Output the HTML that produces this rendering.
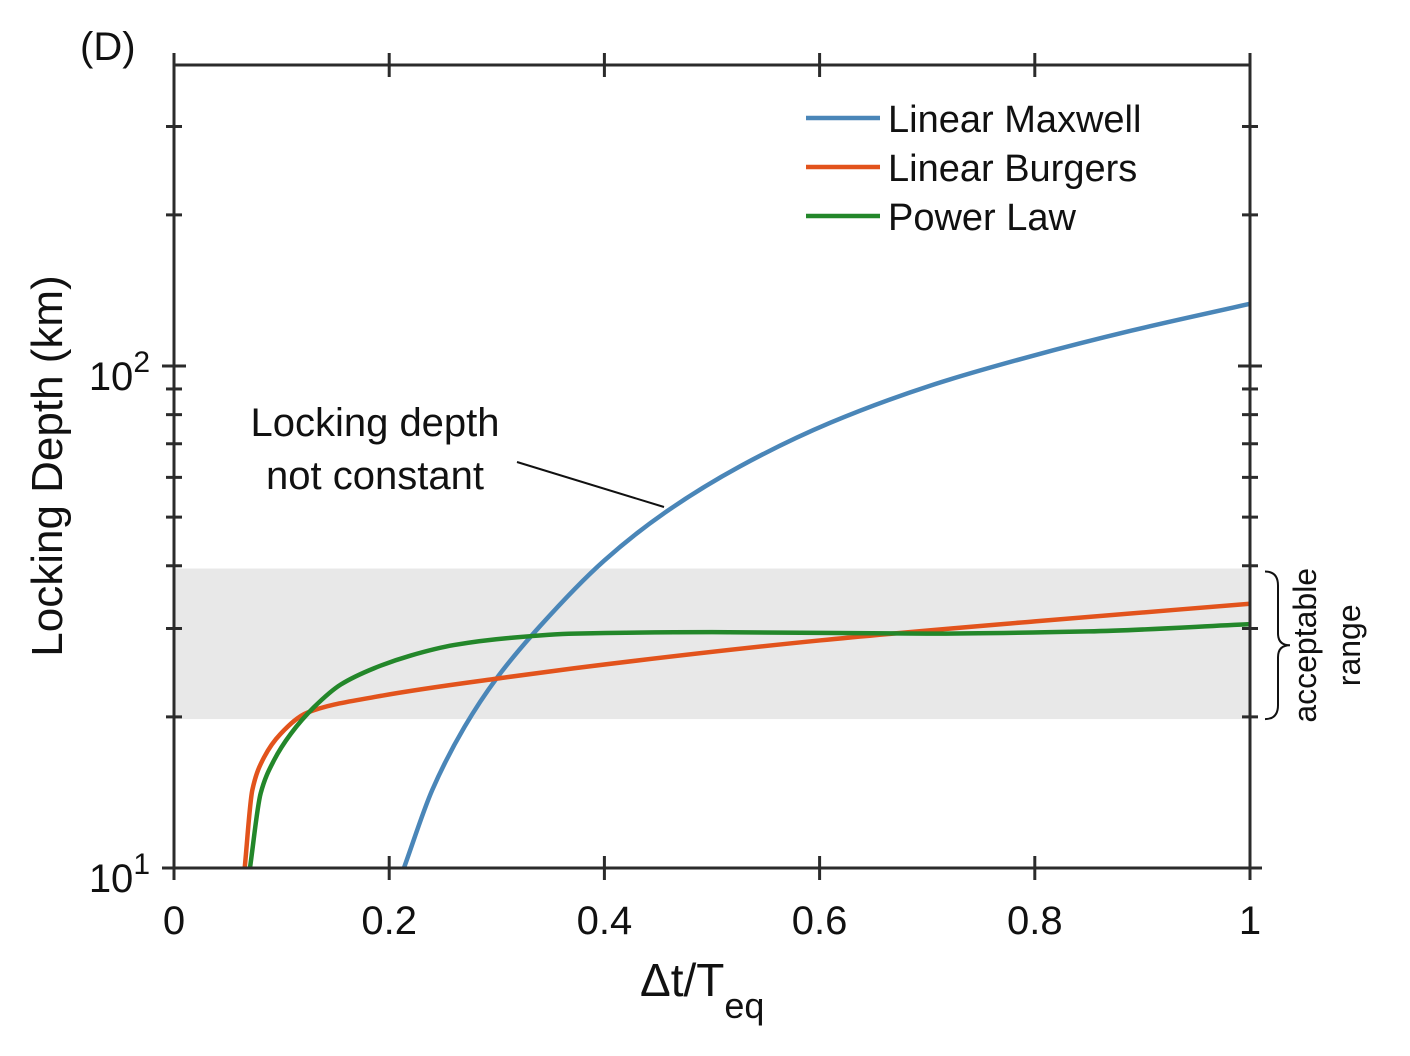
<!DOCTYPE html>
<html><head><meta charset="utf-8"><style>
html,body{margin:0;padding:0;background:#fff;}
svg{display:block;font-family:"Liberation Sans",sans-serif;}
</style></head><body>
<svg id="chart" width="1410" height="1056" viewBox="0 0 1410 1056">
<text x="80" y="60" font-size="40" fill="#111">(D)</text>
<g id="plot"></g>
</svg>
<script>
const xTicks=[0,0.2,0.4,0.6,0.8,1];
const xTickLabels=["0","0.2","0.4","0.6","0.8","1"];
const yMinor=[20,30,40,50,60,70,80,90,200,300];
const bandRange=[19.8,39.5];
const maxwellX=[0.2137,0.24,0.27,0.30,0.34,0.4,0.456,0.526,0.61,0.703,0.796,0.889,1.0];
const maxwellY=[10,14.3,19.1,23.9,30.3,41.0,51.0,63.1,77.1,91.4,104.5,117.5,133];
const burgersX=[0.0657,0.0728,0.0836,0.099,0.124,0.186,0.31,0.372,0.6,0.8,1.0];
const burgersY=[10,14.3,16.6,18.5,20.4,21.9,24.0,25.0,28.4,31,33.6];
const powerX=[0.0706,0.0806,0.093,0.1085,0.130,0.155,0.186,0.22,0.26,0.31,0.372,0.5,0.7,0.85,1.0];
const powerY=[10,14.1,16.4,18.5,20.9,23.2,25.0,26.5,27.8,28.7,29.3,29.5,29.3,29.6,30.6];

const X0=174,X1=1250,Y10=868,DEC=502,YT=65;
const sx=v=>X0+(X1-X0)*v;
const sy=v=>Y10-DEC*Math.log10(v/10);
const NS="http://www.w3.org/2000/svg";
const g=document.getElementById('plot');
function el(t,a){const e=document.createElementNS(NS,t);for(const k in a)e.setAttribute(k,a[k]);g.appendChild(e);return e;}

const band=el('rect',{x:X0,y:sy(bandRange[1]),width:X1-X0,height:sy(bandRange[0])-sy(bandRange[1]),fill:'#e8e8e8'});



function curve(xs,ys,color,name){
  const px=xs.map(sx), py=ys.map(sy), n=px.length;
  const d0=[];for(let i=0;i<n-1;i++)d0.push((py[i+1]-py[i])/(px[i+1]-px[i]));
  const m=new Array(n);
  m[0]=d0[0];m[n-1]=d0[n-2];
  for(let i=1;i<n-1;i++){
    if(d0[i-1]*d0[i]<=0)m[i]=0;
    else{const h0=px[i]-px[i-1],h1=px[i+1]-px[i];const w1=2*h1+h0,w2=h1+2*h0;m[i]=(w1+w2)/(w1/d0[i-1]+w2/d0[i]);}
  }
  let d=`M${px[0]},${py[0]}`;
  for(let i=0;i<n-1;i++){
    const h=(px[i+1]-px[i])/3;
    d+=` C${px[i]+h},${py[i]+m[i]*h} ${px[i+1]-h},${py[i+1]-m[i+1]*h} ${px[i+1]},${py[i+1]}`;
  }
  const e=el('path',{d,fill:'none',stroke:color,'stroke-width':4.5,'stroke-linejoin':'round'});
  
  
}
curve(maxwellX,maxwellY,'#4a86b8','linear-maxwell-line');
curve(burgersX,burgersY,'#e2531c','linear-burgers-line');
curve(powerX,powerY,'#23872a','power-law-line');

const frame=el('rect',{x:X0,y:YT,width:X1-X0,height:Y10-YT,fill:'none',stroke:'#2b2b2b','stroke-width':3});



xTicks.forEach((t,i)=>{
  const x=sx(t);
  const a=el('line',{x1:x,x2:x,y1:Y10-12,y2:Y10+12,stroke:'#2b2b2b','stroke-width':3});
  
  
  const b=el('line',{x1:x,x2:x,y1:YT-12,y2:YT+12,stroke:'#2b2b2b','stroke-width':3});
  
  
  const l=el('text',{x:x,y:934,'font-size':40,'text-anchor':'middle',fill:'#111'});
  l.textContent=xTickLabels[i];
  
  
});
[10,100].concat(yMinor).forEach(v=>{
  const y=sy(v), len=(v===10||v===100)?12:8;
  [X0,X1].forEach(x=>{
    const t=el('line',{x1:x-len,x2:x+len,y1:y,y2:y,stroke:'#2b2b2b','stroke-width':3});
    
    
  });
});
[[10,'1'],[100,'2']].forEach(([v,e])=>{
  const t=el('text',{x:150,y:sy(v)+24,'font-size':40,'text-anchor':'end',fill:'#111'});
  t.innerHTML=`10<tspan dy="-18" font-size="30">${e}</tspan>`;
  
  
});

const yt=el('text',{x:0,y:0,'font-size':44,'text-anchor':'middle',fill:'#111',transform:'translate(62,466) rotate(-90)'});
yt.textContent='Locking Depth (km)';


const xt=el('text',{x:640,y:996,'font-size':46,fill:'#111'});
xt.innerHTML='Δt/T<tspan dy="22" font-size="36">eq</tspan>';



[['Linear Maxwell','#4a86b8',118],['Linear Burgers','#e2531c',167],['Power Law','#23872a',216]].forEach(([n,c,y])=>{
  const l=el('line',{x1:806,x2:880,y1:y,y2:y,stroke:c,'stroke-width':4.5});
  
  
  const t=el('text',{x:888,y:y+14,'font-size':38,fill:'#111'});
  t.textContent=n;
  
  
});

const a1=el('text',{x:375,y:436,'font-size':40,'text-anchor':'middle',fill:'#111'});
a1.textContent='Locking depth';


const a2=el('text',{x:375,y:489,'font-size':40,'text-anchor':'middle',fill:'#111'});
a2.textContent='not constant';


const al=el('line',{x1:517,x2:664,y1:462,y2:507,stroke:'#111','stroke-width':2});



const yb1=sy(bandRange[1])+3, yb2=sy(bandRange[0]), ym=(yb1+yb2)/2;
const br=el('path',{d:`M1265,${yb1} Q1278,${yb1} 1278,${yb1+14} L1278,${ym-12} Q1278,${ym} 1290,${ym} Q1278,${ym} 1278,${ym+12} L1278,${yb2-14} Q1278,${yb2} 1265,${yb2}`,fill:'none',stroke:'#111','stroke-width':2});


const r1=el('text',{x:0,y:0,'font-size':32,'text-anchor':'middle',fill:'#111',transform:`translate(1316,${ym}) rotate(-90)`});
r1.textContent='acceptable';


const r2=el('text',{x:0,y:0,'font-size':32,'text-anchor':'middle',fill:'#111',transform:`translate(1360,${ym}) rotate(-90)`});
r2.textContent='range';


</script>
</body></html>
